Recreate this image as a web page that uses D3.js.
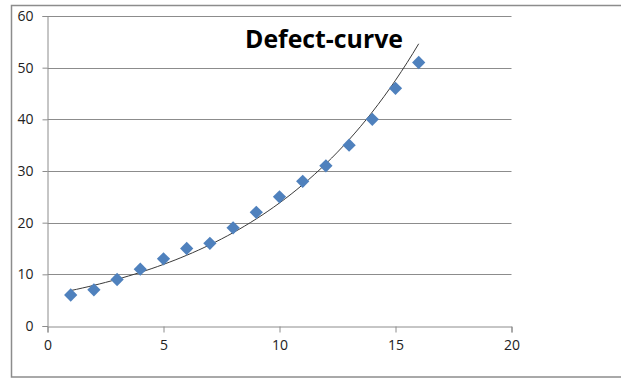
<!DOCTYPE html>
<html>
<head>
<meta charset="utf-8">
<script src="https://cdn.jsdelivr.net/npm/d3@7"></script>
<style>
	body { margin: 0; background: #fff; }
	svg { display: block; }
	.tick text { font-family: "Open Sans", sans-serif; font-size: 14px; fill: #222; }
</style>
</head>
<body>
<div id="chart"></div>
<script>
// DATA
const defectX = [1, 2, 3, 4, 5, 6, 7, 8, 9, 10, 11, 12, 13, 14, 15, 16];
const defectY = [6, 7, 9, 11, 13, 15, 16, 19, 22, 25, 28, 31, 35, 40, 46, 51];
const xTicks = [0, 5, 10, 15, 20];
const yTicks = [0, 10, 20, 30, 40, 50, 60];
const titleText = "Defect-curve";

var width = 621,
	height = 378;

var svg = d3
	.select("#chart")
	.append("svg")
	.attr("width", width)
	.attr("height", height);

// OUTER CHART BORDER
svg
	.append("rect")
	.attr("x", 11.5)
	.attr("y", 5.5)
	.attr("width", 640)
	.attr("height", 371.5)
	.attr("fill", "none")
	.attr("stroke", "#8c8c8c")
	.attr("stroke-width", 1.5);

// SCALES
var x = d3.scaleLinear().domain([0, 20]).range([47.5, 511.5]);
var y = d3.scaleLinear().domain([0, 60]).range([326, 16]);

// GRIDLINES
svg
	.append("g")
	.selectAll("line")
	.data(yTicks.filter((d) => d > 0))
	.join("line")
	.attr("x1", x(0))
	.attr("x2", x(20))
	.attr("y1", (d) => Math.round(y(d)) + 0.5)
	.attr("y2", (d) => Math.round(y(d)) + 0.5)
	.attr("stroke", "#8c8c8c")
	.attr("stroke-width", 1);

// X AXIS
var xAxis = svg
	.append("g")
	.attr("transform", "translate(0," + (Math.round(y(0)) + 0.5) + ")")
	.call(d3.axisBottom(x).tickValues(xTicks).tickSize(6).tickPadding(8));
xAxis.select(".domain").attr("stroke", "#8c8c8c");
xAxis.selectAll(".tick line").attr("stroke", "#8c8c8c");

// Y AXIS
var yAxis = svg
	.append("g")
	.attr("transform", "translate(" + x(0) + ",0)")
	.call(d3.axisLeft(y).tickValues(yTicks).tickSize(5).tickPadding(9));
yAxis.select(".domain").attr("stroke", "#8c8c8c");
yAxis.selectAll(".tick line").attr("stroke", "#8c8c8c");

// EXPONENTIAL TRENDLINE (least squares on ln y)
var n = defectX.length;
var mx = d3.mean(defectX);
var ml = d3.mean(defectY, (d) => Math.log(d));
var sxy = 0,
	sxx = 0;
defectX.forEach(function (d, i) {
	sxy += (d - mx) * (Math.log(defectY[i]) - ml);
	sxx += (d - mx) * (d - mx);
});
var b = sxy / sxx;
var a = Math.exp(ml - b * mx);
var trend = d3.range(0, 61).map(function (i) {
	var xv = defectX[0] + (i * (defectX[n - 1] - defectX[0])) / 60;
	return [xv, a * Math.exp(b * xv)];
});
svg
	.append("path")
	.datum(trend)
	.attr("fill", "none")
	.attr("stroke", "#3a3a3a")
	.attr("stroke-width", 1)
	.attr(
		"d",
		d3
			.line()
			.x((d) => x(d[0]))
			.y((d) => y(d[1]))
	);

// POINTS (DIAMONDS)
svg
	.append("g")
	.selectAll("path")
	.data(defectX)
	.join("path")
	.attr("d", d3.symbol(d3.symbolSquare, 88))
	.attr("transform", (d, i) => "translate(" + x(d) + "," + y(defectY[i]) + ") rotate(45)")
	.attr("fill", "#4f81bd");

// TITLE
svg
	.append("text")
	.attr("x", 245)
	.attr("y", 48)
	.attr("textLength", 158)
	.attr("lengthAdjust", "spacingAndGlyphs")
	.style("font-family", "'Open Sans', sans-serif")
	.style("font-weight", "bold")
	.style("font-size", "25px")
	.style("fill", "#000")
	.text(titleText);
</script>
</body>
</html>
